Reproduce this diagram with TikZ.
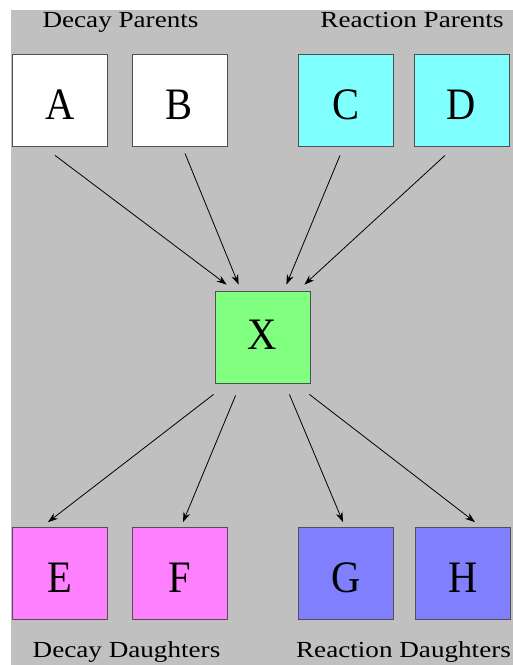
\documentclass[tikz,border=0pt]{standalone}
\usepackage{fontspec}
\setmainfont{Liberation Serif}
\usetikzlibrary{arrows.meta,calc}
\definecolor{bg}{RGB}{192,192,192}
\definecolor{cyanbox}{RGB}{128,255,255}
\definecolor{greenbox}{RGB}{128,255,128}
\definecolor{magbox}{RGB}{255,128,255}
\definecolor{bluebox}{RGB}{128,128,255}
\definecolor{edge}{RGB}{80,80,80}
\begin{document}
\begin{tikzpicture}[x=1pt,y=-1pt,
  box/.style={draw=edge,line width=0.8pt,minimum width=95pt,minimum height=92pt,inner sep=0pt,
    text height=38pt,text depth=0pt,font=\fontsize{45}{45}\selectfont},
  lbl/.style={font=\fontsize{23}{23}\selectfont,inner sep=0pt,anchor=base,xscale=1.18},
  arr/.style={-{Stealth[length=10pt,width=7pt]},line width=0.8pt}]
\useasboundingbox (0,0) rectangle (513,665);
\fill[white] (0,0) rectangle (513,665);
\fill[bg] (11,10) rectangle (513,665);
\node[lbl] (lDP) at (120.5,27) {Decay Parents};
\node[lbl] (lRP) at (412,27) {Reaction Parents};
\node[box,fill=white] (A) at (60,100) {\scalebox{0.9}[1]{A}};
\node[box,fill=white] (B) at (179.5,100) {\scalebox{0.9}[1]{B}};
\node[box,fill=cyanbox] (C) at (346,100) {\scalebox{0.9}[1]{C}};
\node[box,fill=cyanbox] (D) at (461.5,100) {\scalebox{0.9}[1]{D}};
\node[box,fill=greenbox,text height=24pt] (X) at (262.5,337) {\scalebox{0.9}[1]{X}};
\node[box,fill=magbox,text height=37pt] (E) at (60,573.5) {\scalebox{0.9}[1]{E}};
\node[box,fill=magbox,text height=37pt] (F) at (180,573.5) {\scalebox{0.9}[1]{F}};
\node[box,fill=bluebox,text height=37pt] (G) at (346,573.5) {\scalebox{0.9}[1]{G}};
\node[box,fill=bluebox,text height=37pt] (H) at (463,573.5) {\scalebox{0.9}[1]{H}};
\node[lbl] (lDD) at (126.5,657) {Decay Daughters};
\node[lbl] (lRD) at (403.5,657) {Reaction Daughters};
\draw[arr] ($(A.south)+(-5,9)$) -- ($(X.north west)+(12,-6)$);
\draw[arr] ($(B.south)+(5.5,7)$) -- ($(X.north west)+(24,-6)$);
\draw[arr] ($(C.south)+(-6,9)$) -- ($(X.north east)+(-24,-6)$);
\draw[arr] ($(D.south)+(-16.5,9)$) -- ($(X.north east)+(-6,-6)$);
\draw[arr] ($(X.south west)+(-1,11)$) -- ($(E.north)+(-12,-5)$);
\draw[arr] ($(X.south west)+(21,12)$) -- ($(F.north)+(3,-5)$);
\draw[arr] ($(X.south east)+(-21,11)$) -- ($(G.north)+(-3,-5)$);
\draw[arr] ($(X.south east)+(-1,11)$) -- ($(H.north)+(12,-5)$);
\end{tikzpicture}
\end{document}
